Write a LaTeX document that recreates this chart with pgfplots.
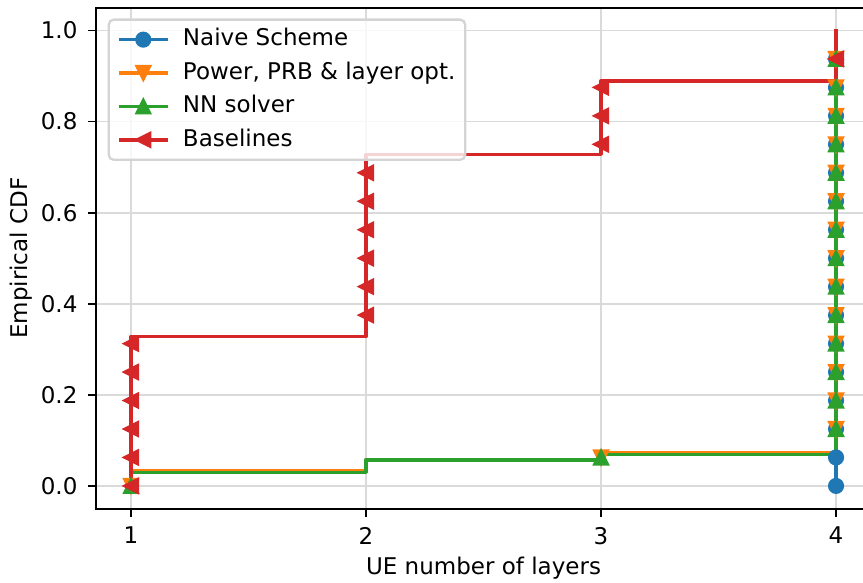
\documentclass[border=0pt]{standalone}
\usepackage{fontspec}
\setmainfont{DejaVu Sans}
\usepackage{pgfplots}
\pgfplotsset{compat=1.18}
\definecolor{mblue}{HTML}{1F77B4}
\definecolor{morange}{HTML}{FF7F0E}
\definecolor{mgreen}{HTML}{2CA02C}
\definecolor{mred}{HTML}{D62728}
\definecolor{gridgray}{RGB}{218,218,218}
\definecolor{leggray}{RGB}{212,212,212}
\newcommand{\mfont}{\fontsize{11.5}{13.8}\selectfont}
\pgfdeclareplotmark{mcirc}{\pgfpathcircle{\pgfpointorigin}{\pgfplotmarksize}\pgfusepathqfillstroke}
\pgfdeclareplotmark{mtridown}{%
  \pgfpathmoveto{\pgfqpoint{0pt}{-\pgfplotmarksize}}%
  \pgfpathlineto{\pgfqpoint{-\pgfplotmarksize}{\pgfplotmarksize}}%
  \pgfpathlineto{\pgfqpoint{\pgfplotmarksize}{\pgfplotmarksize}}%
  \pgfpathclose\pgfusepathqfillstroke}
\pgfdeclareplotmark{mtriup}{%
  \pgfpathmoveto{\pgfqpoint{0pt}{\pgfplotmarksize}}%
  \pgfpathlineto{\pgfqpoint{-\pgfplotmarksize}{-\pgfplotmarksize}}%
  \pgfpathlineto{\pgfqpoint{\pgfplotmarksize}{-\pgfplotmarksize}}%
  \pgfpathclose\pgfusepathqfillstroke}
\pgfdeclareplotmark{mtrileft}{%
  \pgfpathmoveto{\pgfqpoint{-\pgfplotmarksize}{0pt}}%
  \pgfpathlineto{\pgfqpoint{\pgfplotmarksize}{\pgfplotmarksize}}%
  \pgfpathlineto{\pgfqpoint{\pgfplotmarksize}{-\pgfplotmarksize}}%
  \pgfpathclose\pgfusepathqfillstroke}
\pgfplotsset{
  mline/.style={line width=1.725pt, line cap=rect, line join=round, const plot, no marks, forget plot},
  mmarks/.style={only marks, mark size=3.45pt, mark options={line width=1.15pt, solid, sharp corners}, forget plot},
  mleg/.style={line width=1.725pt, line cap=rect, mark size=3.45pt, mark options={line width=1.15pt, solid, sharp corners}},
}
\begin{document}
\begin{tikzpicture}
\begin{axis}[
  at={(0pt,0pt)}, anchor=south west,
  scale only axis, width=387.75pt, height=250.5pt,
  xmin=0.85, xmax=4.15, ymin=-0.05, ymax=1.05,
  xtick={1,2,3,4}, ytick={0,0.2,0.4,0.6,0.8,1.0},
  tick pos=left, tick align=outside, major tick length=4pt,
  tick style={black, line width=0.92pt},
  axis line style={black, line width=0.92pt},
  grid=major, major grid style={gridgray, line width=0.92pt},
  tick label style={font=\mfont},
  /pgf/number format/assume math mode=true,
  xticklabel style={anchor=north, inner sep=0pt},
  yticklabel style={anchor=east, inner sep=0pt, /pgf/number format/.cd, fixed, fixed zerofill, precision=1},
  xticklabel shift=5pt, yticklabel shift=5pt,
  label style={font=\mfont},
  xlabel={UE number of layers},
  ylabel={Empirical CDF},
  xlabel style={at={(axis description cs:0.5,-0.1182)}, anchor=center},
  ylabel style={at={(axis description cs:-0.0967,0.5)}, anchor=center},
  legend cell align=left,
  legend image code/.code={
    \draw[fill opacity=1, draw opacity=1, sharp corners, mark repeat=2, mark phase=2, #1]
      plot coordinates {(0pt,0pt) (11.5pt,0pt) (23pt,0pt)};
  },
  legend style={
    at={(0,1)}, anchor=north west, xshift=5.9pt, yshift=-5.4pt,
    draw=leggray, fill=white, fill opacity=0.8, text opacity=1,
    line width=1.15pt, rounded corners=2.5pt,
    inner xsep=4.9pt, inner ysep=4.5pt,
    row sep=5.7pt, column sep=7.5pt,
    font=\mfont,
    nodes={inner sep=0pt, text height=8.6pt, text depth=2.4pt},
  },
]
% Naive Scheme
\addplot[mline, mblue] coordinates {(4,0) (4,1.0)};
\addplot[mmarks, mblue, mark=mcirc] coordinates {
  (4,0) (4,0.0625) (4,0.125) (4,0.1875) (4,0.25) (4,0.3125) (4,0.375) (4,0.4375)
  (4,0.5) (4,0.5625) (4,0.625) (4,0.6875) (4,0.75) (4,0.8125) (4,0.875) (4,0.9375)};
% Power, PRB & layer opt.
\addplot[mline, morange] coordinates {(1,0) (1,0.0325) (2,0.057) (3,0.073) (4,1.0)};
\addplot[mmarks, morange, mark=mtridown] coordinates {
  (1,0) (3,0.0625) (4,0.125) (4,0.1875) (4,0.25) (4,0.3125) (4,0.375) (4,0.4375)
  (4,0.5) (4,0.5625) (4,0.625) (4,0.6875) (4,0.75) (4,0.8125) (4,0.875) (4,0.9375)};
% NN solver
\addplot[mline, mgreen] coordinates {(1,0) (1,0.030) (2,0.057) (3,0.0695) (4,1.0)};
\addplot[mmarks, mgreen, mark=mtriup] coordinates {
  (1,0) (3,0.0625) (4,0.125) (4,0.1875) (4,0.25) (4,0.3125) (4,0.375) (4,0.4375)
  (4,0.5) (4,0.5625) (4,0.625) (4,0.6875) (4,0.75) (4,0.8125) (4,0.875) (4,0.9375)};
% Baselines
\addplot[mline, mred] coordinates {
  (1,0) (1,0.328) (2,0.375) (2,0.728) (3,0.75) (3,0.889) (4,0.9375) (4,1.0)};
\addplot[mmarks, mred, mark=mtrileft] coordinates {
  (1,0) (1,0.0625) (1,0.125) (1,0.1875) (1,0.25) (1,0.3125)
  (2,0.375) (2,0.4375) (2,0.5) (2,0.5625) (2,0.625) (2,0.6875)
  (3,0.75) (3,0.8125) (3,0.875) (4,0.9375)};
\addlegendimage{mleg, mblue, mark=mcirc}
\addlegendentry{Naive Scheme}
\addlegendimage{mleg, morange, mark=mtridown}
\addlegendentry{Power, PRB \& layer opt.}
\addlegendimage{mleg, mgreen, mark=mtriup}
\addlegendentry{NN solver}
\addlegendimage{mleg, mred, mark=mtrileft}
\addlegendentry{Baselines}
\end{axis}
\pgfresetboundingbox
\path[use as bounding box] (-47.9pt,-37.1pt) rectangle (383.6pt,254.35pt);
\end{tikzpicture}
\end{document}
